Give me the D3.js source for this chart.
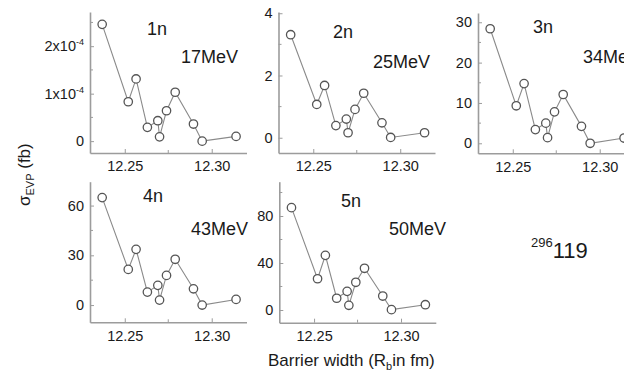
<!DOCTYPE html>
<html>
<head>
<meta charset="utf-8">
<script src="https://cdn.jsdelivr.net/npm/d3@7"></script>
<style>
  html, body { margin: 0; padding: 0; background: #fff; }
  svg { display: block; font-family: "Liberation Sans", Arial, sans-serif; }
</style>
</head>
<body>
<svg id="chart" width="624" height="377"></svg>
<script>
// Barrier width R_b (fm) shared by every channel
const barrierWidth = [12.237, 12.252, 12.2565, 12.263, 12.269, 12.270, 12.274, 12.279, 12.2895, 12.2945, 12.314];

// Evaporation residue cross sections (fb) per neutron channel
const sigma1n = [2.46e-4, 0.83e-4, 1.31e-4, 0.29e-4, 0.43e-4, 0.09e-4, 0.64e-4, 1.03e-4, 0.36e-4, 0.0, 0.10e-4];
const sigma2n = [3.31, 1.07, 1.68, 0.39, 0.60, 0.16, 0.91, 1.43, 0.48, 0.01, 0.16];
const sigma3n = [28.4, 9.3, 14.8, 3.4, 5.0, 1.4, 7.8, 12.1, 4.2, 0.0, 1.3];
const sigma4n = [64.8, 21.5, 33.6, 7.8, 11.9, 3.0, 17.9, 27.6, 9.8, 0.0, 3.4];
const sigma5n = [87.1, 26.6, 46.5, 10.0, 15.9, 4.0, 23.6, 35.5, 11.9, 0.3, 4.5];

const channelNames = ["1n", "2n", "3n", "4n", "5n"];
const excitationEnergies = ["17MeV", "25MeV", "34MeV", "43MeV", "50MeV"];

const xTickValues = [12.25, 12.30];
const xMinorTicks = [12.275];
const yTicks1n = [0, 1e-4, 2e-4];
const yTicks2n = [0, 2, 4];
const yTicks3n = [0, 10, 20, 30];
const yTicks4n = [0, 30, 60];
const yTicks5n = [0, 40, 80];
const yMinor1n = [0.5e-4, 1.5e-4, 2.5e-4];
const yMinor2n = [1, 3];
const yMinor3n = [5, 15, 25];
const yMinor4n = [15, 45];
const yMinor5n = [20, 60, 100];

const series = [sigma1n, sigma2n, sigma3n, sigma4n, sigma5n];
const yTicks = [yTicks1n, yTicks2n, yTicks3n, yTicks4n, yTicks5n];
const yMinor = [yMinor1n, yMinor2n, yMinor3n, yMinor4n, yMinor5n];

// Panel frames (pixels) and y extents
const panels = [
  { left: 90,    top: 12,    bottom: 153,   ydom: [-0.25e-4, 2.72e-4], name: [147, 35],  energy: [181, 63] },
  { left: 278.5, top: 12,    bottom: 153,   ydom: [-0.49, 4.04],       name: [333, 38],  energy: [373, 68] },
  { left: 478,   top: 13,    bottom: 153.3, ydom: [-2.48, 32.3],       name: [533, 33],  energy: [583, 63] },
  { left: 90,    top: 181.7, bottom: 322.3, ydom: [-10.4, 74.4],       name: [143, 202], energy: [191, 235] },
  { left: 279.3, top: 181.7, bottom: 322.7, ydom: [-10.8, 109.2],      name: [341, 207], energy: [389, 235] }
];
const panelWidth = 156.5;
const xDomain = [12.23, 12.32];

const axisColor = "#9c9c9c";
const textColor = "#1a1a1a";

const svg = d3.select("#chart");

// unlabeled minor ticks drawn as plain segments
function minorTicks(g, values, pos, orient) {
  g.selectAll(null).data(values).join("line")
    .attr("stroke", axisColor).attr("stroke-width", 1)
    .each(function (v) {
      const l = d3.select(this);
      if (orient === "x") l.attr("x1", pos.scale(v)).attr("x2", pos.scale(v)).attr("y1", pos.at).attr("y2", pos.at - 3);
      else l.attr("y1", pos.scale(v)).attr("y2", pos.scale(v)).attr("x1", pos.at).attr("x2", pos.at + 3);
    });
}

panels.forEach((p, i) => {
  const x = d3.scaleLinear().domain(xDomain).range([p.left, p.left + panelWidth]);
  const y = d3.scaleLinear().domain(p.ydom).range([p.bottom, p.top]);
  const g = svg.append("g");

  // x axis with inward ticks
  g.append("g").attr("transform", `translate(0,${p.bottom})`)
    .call(d3.axisBottom(x).tickValues(xTickValues).tickSize(-4).tickSizeOuter(0)
      .tickPadding(8).tickFormat(d3.format(".2f")));
  minorTicks(g, xMinorTicks, { scale: x, at: p.bottom }, "x");

  // y axis
  const gy = g.append("g").attr("transform", `translate(${p.left},0)`)
    .call(d3.axisLeft(y).tickValues(yTicks[i]).tickSize(-4).tickSizeOuter(0).tickPadding(6)
      .tickFormat(d => d === 0 ? "0" : String(d)));
  minorTicks(g, yMinor[i].filter(v => v <= p.ydom[1]), { scale: y, at: p.left }, "y");

  g.selectAll(".domain").attr("stroke", axisColor).attr("stroke-width", 1.6);
  g.selectAll(".tick line").attr("stroke", axisColor).attr("stroke-width", 1);
  g.selectAll(".tick text").attr("fill", textColor).attr("font-size", 14.5)
    .attr("font-family", "'Liberation Sans', Arial, sans-serif");

  // scientific labels for the 1n channel: m x 10^-4
  if (i === 0) {
    gy.selectAll(".tick text").each(function (d) {
      if (d === 0) return;
      const t = d3.select(this).text("");
      t.append("tspan").text(`${Math.round(d / 1e-4)}x10`);
      t.append("tspan").attr("font-size", 9).attr("dy", -6).text("-4");
    });
  }

  // connecting line
  const pts = barrierWidth.map((b, k) => [b, series[i][k]]);
  g.append("path").datum(pts)
    .attr("fill", "none").attr("stroke", "#8a8a8a").attr("stroke-width", 1.1)
    .attr("d", d3.line().x(d => x(d[0])).y(d => y(d[1])));

  // open circle markers
  g.selectAll("circle").data(pts).join("circle")
    .attr("cx", d => x(d[0])).attr("cy", d => y(d[1])).attr("r", 4.2)
    .attr("fill", "#fff").attr("stroke", "#555").attr("stroke-width", 1.3);

  // channel and energy annotations
  g.append("text").attr("x", p.name[0]).attr("y", p.name[1])
    .attr("font-size", 18).attr("fill", textColor).text(channelNames[i]);
  g.append("text").attr("x", p.energy[0]).attr("y", p.energy[1])
    .attr("font-size", 18).attr("fill", textColor).text(excitationEnergies[i]);
});

// compound nucleus label
const cn = svg.append("text").attr("x", 531).attr("y", 258).attr("fill", textColor);
cn.append("tspan").attr("font-size", 13).attr("dy", -11).text("296");
cn.append("tspan").attr("font-size", 22).attr("dy", 11).text("119");

// y axis title: sigma_EVP (fb)
const yt = svg.append("text").attr("transform", "translate(30,206) rotate(-90)")
  .attr("font-size", 17).attr("fill", textColor);
yt.append("tspan").text("\u03c3");
yt.append("tspan").attr("font-size", 11).attr("dy", 4).text("EVP");
yt.append("tspan").attr("dy", -4).text(" (fb)");

// x axis title
const xt = svg.append("text").attr("x", 268).attr("y", 366)
  .attr("font-size", 17).attr("fill", textColor);
xt.append("tspan").text("Barrier width (R");
xt.append("tspan").attr("font-size", 11).attr("dy", 4).text("b");
xt.append("tspan").attr("dy", -4).text("in fm)");
</script>
</body>
</html>
